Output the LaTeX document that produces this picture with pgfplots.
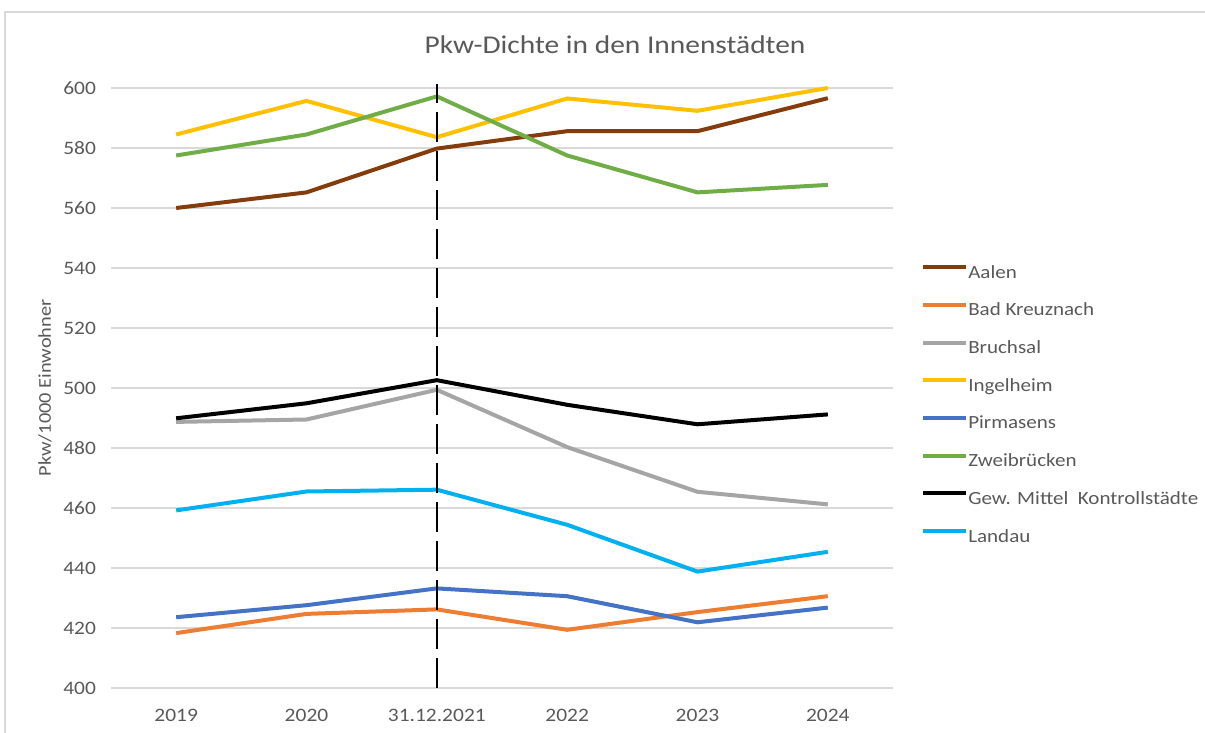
\documentclass[border=0pt]{standalone}
\usepackage{pgfplots}
\pgfplotsset{compat=1.18}
\usepackage{fontspec}
\setmainfont[FakeStretch=1.13]{Carlito}
\newfontfamily\titlefont[FakeStretch=1.15]{Carlito}
\definecolor{txt}{HTML}{595959}
\definecolor{gridc}{HTML}{D9D9D9}
\definecolor{cAalen}{HTML}{843C0C}
\definecolor{cBad}{HTML}{ED7D31}
\definecolor{cBru}{HTML}{A5A5A5}
\definecolor{cIng}{HTML}{FFC000}
\definecolor{cPir}{HTML}{4472C4}
\definecolor{cZwe}{HTML}{70AD47}
\definecolor{cLan}{HTML}{00B0F0}
\begin{document}
\begin{tikzpicture}
\path[use as bounding box] (0,0) rectangle (602.5pt,366.5pt);
\draw[gridc, line width=0.8pt] (2.5pt,0) -- (2.5pt,360.5pt) -- (602.5pt,360.5pt);
\begin{axis}[
  at={(55.5pt,22.5pt)}, anchor=south west,
  scale only axis, width=391pt, height=300pt,
  xmin=-0.5, xmax=5.5, ymin=400, ymax=600,
  clip=false,
  xtick={0,1,2,3,4,5},
  xticklabels={2019,2020,31.12.2021,2022,2023,2024},
  ytick={400,420,...,600},
  ymajorgrids, grid style={gridc, line width=0.7pt},
  axis line style={draw=none},
  major tick length=0pt,
  /pgf/number format/assume math mode=true,
  tick label style={font=\fontsize{9.5}{11}\selectfont, text=txt},
  xticklabel style={yshift=-7pt},
  yticklabel style={xshift=-4pt},
  ylabel={Pkw/1000 Einwohner},
  ylabel style={at={(axis description cs:-0.0844,0.5)}, anchor=center, font=\fontsize{9}{11}\selectfont, text=txt},
  title={Pkw-Dichte in den Innenstädten},
  title style={at={(axis description cs:0.6445,1.0517)}, anchor=center, font=\titlefont\fontsize{12.8}{14}\selectfont, text=txt},
  legend cell align=left,
  legend style={at={(axis description cs:1.028,0.7137)}, anchor=north west, draw=none, fill=none,
    font=\fontsize{9.3}{11}\selectfont, text=txt, row sep=9.85pt,
    nodes={inner sep=0pt, text height=7pt, text depth=2pt},
    /tikz/every odd column/.append style={column sep=0pt}},
  legend image code/.code={\draw[#1] (-1pt,3pt) -- (20.5pt,3pt);},
  every axis plot/.append style={line width=2pt},
]
\addplot[cAalen] coordinates {(0,560) (1,565.2) (2,579.8) (3,585.6) (4,585.6) (5,596.6)};
\addlegendentry{Aalen}
\addplot[cBad] coordinates {(0,418.3) (1,424.7) (2,426.2) (3,419.4) (4,425.3) (5,430.6)};
\addlegendentry{Bad Kreuznach}
\addplot[cBru] coordinates {(0,488.7) (1,489.5) (2,499.4) (3,480.3) (4,465.4) (5,461.2)};
\addlegendentry{Bruchsal}
\addplot[cIng] coordinates {(0,584.5) (1,595.7) (2,583.6) (3,596.5) (4,592.4) (5,600)};
\addlegendentry{Ingelheim}
\addplot[cPir] coordinates {(0,423.6) (1,427.6) (2,433.2) (3,430.6) (4,421.9) (5,426.8)};
\addlegendentry{Pirmasens}
\addplot[cZwe] coordinates {(0,577.5) (1,584.5) (2,597.2) (3,577.5) (4,565.2) (5,567.7)};
\addlegendentry{Zweibrücken}
\addplot[black] coordinates {(0,489.9) (1,494.9) (2,502.6) (3,494.4) (4,487.9) (5,491.2)};
\addlegendentry{Gew. Mittel\ \ Kontrollstädte}
\addplot[cLan] coordinates {(0,459.2) (1,465.5) (2,466.1) (3,454.4) (4,438.8) (5,445.4)};
\addlegendentry{Landau}
\addplot[black, line width=1pt, dash pattern=on 15pt off 4.5pt, forget plot] coordinates {(2,400) (2,601.3)};
\end{axis}
\end{tikzpicture}
\end{document}
